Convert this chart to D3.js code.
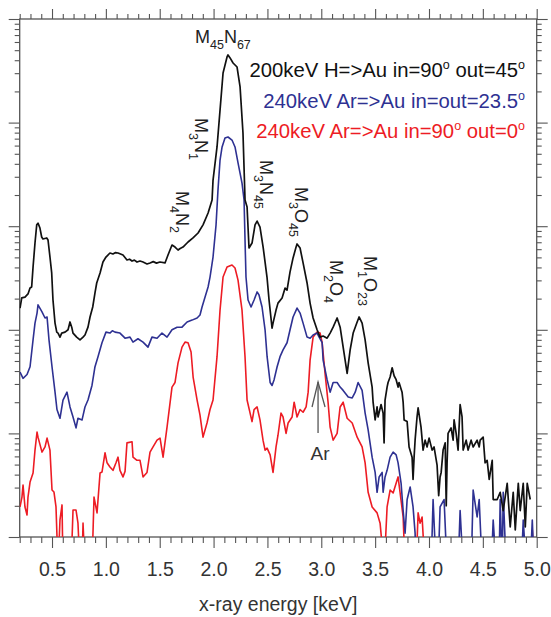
<!DOCTYPE html>
<html>
<head>
<meta charset="utf-8">
<script src="https://cdn.jsdelivr.net/npm/d3@7"></script>
<style>
  body { margin: 0; background: #fff; }
  svg { display: block; }
  text { font-family: "Liberation Sans", Arial, Helvetica, sans-serif; }
</style>
</head>
<body>
<svg id="chart" width="551" height="617"></svg>
<script>
// X-ray emission spectra of gold, counts vs photon energy [keV] (log intensity)
// 200 keV H -> Au, in=90°, out=45°
const spectrumH = [
  [0.203,162],[0.219,203],[0.249,207],[0.277,222],[0.296,253],[0.311,259],[0.324,404],[0.342,688],
  [0.358,1030],[0.370,1070],[0.388,960],[0.404,787],[0.416,753],[0.451,770],[0.463,736],[0.481,504],
  [0.497,354],[0.509,194],[0.528,116],[0.544,95],[0.556,93],[0.574,85],[0.590,93],[0.621,95],
  [0.649,100],[0.667,119],[0.683,106],[0.695,93],[0.729,85],[0.760,80],[0.788,85],[0.806,89],
  [0.834,106],[0.853,133],[0.878,166],[0.899,227],[0.915,283],[0.946,354],[0.973,451],[1.001,504],
  [1.038,551],[1.066,539],[1.090,556],[1.113,551],[1.159,527],[1.196,472],[1.220,480],[1.243,461],
  [1.265,470],[1.289,451],[1.317,461],[1.345,451],[1.382,432],[1.410,442],[1.440,455],[1.470,440],
  [1.502,451],[1.549,442],[1.577,527],[1.614,658],[1.642,629],[1.670,589],[1.690,610],[1.716,629],
  [1.763,704],[1.809,770],[1.856,860],[1.902,1030],[1.949,1340],[1.986,1790],[1.995,2790],[2.032,5820],
  [2.060,13200],[2.088,30100],[2.125,43000],[2.134,45000],[2.153,42100],[2.181,37600],[2.218,34400],[2.246,22100],
  [2.273,7940],[2.292,1790],[2.311,1530],[2.329,616],[2.357,688],[2.385,1030],[2.404,1120],[2.431,980],
  [2.460,629],[2.496,323],[2.515,194],[2.543,104],[2.552,116],[2.580,155],[2.598,181],[2.636,203],
  [2.664,253],[2.682,242],[2.710,362],[2.738,494],[2.766,629],[2.775,674],[2.803,616],[2.831,442],
  [2.868,283],[2.896,181],[2.924,130],[2.961,100],[2.989,85],[3.017,87],[3.054,83],[3.082,93],
  [3.110,106],[3.147,130],[3.175,106],[3.203,68],[3.240,38],[3.268,64],[3.296,93],[3.333,119],
  [3.351,133],[3.379,116],[3.407,80],[3.435,48],[3.472,28],[3.481,20],[3.500,13.5],[3.518,18],
  [3.527,14.4],[3.555,19],[3.574,15.7],[3.583,8.1],[3.592,21],[3.611,28],[3.620,31],[3.639,35],
  [3.658,43],[3.676,36],[3.695,33],[3.713,28],[3.722,31],[3.750,25],[3.760,20],[3.769,13.5],
  [3.797,13],[3.815,7.4],[3.843,5.9],[3.852,3.6],[3.862,6],[3.871,8.6],[3.889,14.4],[3.899,17.6],
  [3.926,11.5],[3.945,6.9],[3.964,8.6],[3.982,7.4],[4.001,9.0],[4.029,6.9],[4.047,7.4],[4.075,4.95],
  [4.090,2.5],[4.103,3.8],[4.113,4.2],[4.131,6.9],[4.150,8.1],[4.160,2.0],[4.168,5.2],[4.177,10],
  [4.205,11.3],[4.224,8.6],[4.233,13.5],[4.252,10],[4.270,6.9],[4.289,19],[4.307,14.4],[4.317,6.9],
  [4.345,8.6],[4.363,6.9],[4.391,8.6],[4.410,7.4],[4.447,8.6],[4.466,7.4],[4.475,8.6],[4.503,9.2],
  [4.521,5.2],[4.540,5.5],[4.559,3.6],[4.587,5.5],[4.596,2.3],[4.633,2.3],
  [4.661,2.7],[4.689,1.8],[4.726,3.3],[4.754,1.25],[4.782,2.7],[4.801,1.17],[4.829,3.3],[4.847,1.8],
  [4.875,3.3],[4.894,1.25],[4.912,3.3],[4.940,2.3]
];

// 240 keV Ar -> Au, in=out=23.5°
const spectrumArGrazing = [
  [0.203,39],[0.231,34],[0.268,37],[0.296,44],[0.324,80],[0.342,116],[0.361,145],[0.370,174],
  [0.407,149],[0.435,130],[0.454,133],[0.472,80],[0.500,44],[0.528,25],[0.546,17],[0.574,14],
  [0.602,21],[0.639,25],[0.667,18],[0.695,14.4],[0.723,11.3],[0.741,14],[0.779,13.5],[0.806,18],
  [0.834,21],[0.871,29],[0.899,44],[0.927,55],[0.964,75],[1.001,95],[1.038,93],[1.060,98],
  [1.085,95],[1.131,93],[1.178,83],[1.224,85],[1.252,76],[1.298,82],[1.345,76],[1.391,68],
  [1.428,85],[1.475,83],[1.521,93],[1.568,85],[1.614,100],[1.661,106],[1.707,106],[1.754,119],
  [1.800,124],[1.847,130],[1.874,139],[1.893,166],[1.921,207],[1.949,259],[1.967,323],[1.995,504],
  [2.023,1030],[2.041,2240],[2.060,4350],[2.079,5820],[2.106,7100],[2.134,7260],[2.171,6790],[2.199,5820],
  [2.227,4080],[2.264,2610],[2.283,1790],[2.292,736],[2.301,323],[2.320,194],[2.348,166],[2.376,194],
  [2.404,232],[2.422,217],[2.450,166],[2.478,100],[2.497,55],[2.525,31],[2.543,29],[2.562,33],
  [2.590,44],[2.617,55],[2.645,64],[2.682,75],[2.710,100],[2.738,133],[2.775,162],[2.803,145],
  [2.831,116],[2.868,85],[2.896,83],[2.924,89],[2.961,93],[2.980,85],[3.008,75],[3.017,51],
  [3.054,33],[3.082,25],[3.110,31],[3.147,31],[3.175,28],[3.203,26],[3.250,22.5],[3.287,22],
  [3.315,25],[3.342,31],[3.379,26],[3.407,15.7],[3.435,10.8],[3.472,5.9],[3.500,4.2],[3.518,2.7],
  [3.537,3.8],[3.565,4.2],[3.574,2.7],[3.592,3.8],[3.611,4.4],[3.639,5.9],[3.667,6.6],[3.695,6.2],
  [3.713,5.2],[3.741,3.3],[3.760,1.8],[3.778,1.09],[3.797,2.3],[3.825,3.04],[3.852,1.95],[3.871,1.09],
  [3.880,0.5],[4.020,0.5],[4.038,2.3],[4.066,0.5],[4.085,0.5],[4.103,1.95],[4.140,2.3],[4.168,0.5],
  [4.270,0.5],[4.289,1.8],[4.317,0.5],[4.392,0.5],[4.410,2.84],[4.447,1.56],[4.466,2.3],[4.494,0.5],
  [4.578,0.5],[4.596,1.46],[4.624,0.5],[4.650,0.5],[4.661,2.3],[4.680,0.5],[4.689,2.7],[4.717,0.5],
  [4.857,0.5],[4.875,1.46],[4.903,0.5],[4.940,0.5],[4.959,1.46],[4.977,0.5]
];

// 240 keV Ar -> Au, in=90°, out=0°
const spectrumArNormal = [
  [0.203,1.95],[0.221,2.43],[0.231,3.18],[0.249,1.95],[0.268,1.63],[0.277,2.43],[0.296,3.39],[0.324,4.15],
  [0.342,6.9],[0.361,10.3],[0.370,9.2],[0.407,6.6],[0.435,7.4],[0.454,9.0],[0.481,6.9],[0.500,2.84],
  [0.518,2.72],[0.537,1.95],[0.556,0.5],[0.574,1.46],[0.593,2.04],[0.602,0.5],[0.677,0.5],[0.695,1.82],
  [0.723,1.82],[0.741,1.36],[0.760,0.5],[0.778,0.5],[0.788,1.36],[0.806,0.5],[0.871,0.5],[0.890,2.43],
  [0.918,1.71],[0.946,4.15],[0.964,4.24],[0.992,6.5],[1.011,5.2],[1.038,4.74],[1.066,4.4],[1.094,5.2],
  [1.113,5.9],[1.131,4.4],[1.159,3.8],[1.178,4.3],[1.196,8.1],[1.243,8.3],[1.252,5.9],[1.289,5.5],
  [1.317,5.5],[1.345,3.8],[1.382,4.2],[1.410,6.6],[1.438,7.4],[1.475,8.6],[1.503,9.0],[1.531,5.9],
  [1.568,11.5],[1.614,28],[1.642,31],[1.670,48],[1.707,68],[1.735,76],[1.763,75],[1.791,61],
  [1.810,35],[1.847,21],[1.874,15],[1.902,9.2],[1.939,12.6],[1.967,17],[1.995,21],[2.032,55],
  [2.060,155],[2.088,323],[2.125,404],[2.171,422],[2.199,395],[2.227,302],[2.264,155],[2.292,55],
  [2.311,21],[2.339,15.7],[2.357,13],[2.376,17],[2.404,18],[2.431,13.5],[2.459,8.6],[2.478,6.9],
  [2.497,7.2],[2.525,6.2],[2.552,4.2],[2.580,7.4],[2.598,9.6],[2.626,15.7],[2.645,14.4],[2.673,10],
  [2.692,12.6],[2.729,14.4],[2.748,20],[2.775,14.4],[2.803,17],[2.831,16],[2.859,18],[2.878,25],
  [2.896,51],[2.924,85],[2.961,95],[2.989,93],[3.008,75],[3.035,38],[3.063,20],[3.082,11.5],
  [3.110,8.6],[3.147,10],[3.175,18],[3.203,20],[3.240,14],[3.287,12.6],[3.333,9.2],[3.379,7.4],
  [3.407,5.2],[3.435,2.7],[3.472,1.95],[3.518,1.71],[3.546,1.36],[3.584,0.5],[3.611,1.95],[3.639,2.84],
  [3.667,2.66],[3.704,3.55],[3.713,3.8],[3.732,2.66],[3.760,1.56],[3.778,0.5],[3.880,0.5],[3.899,1.71],
  [3.917,1.36],[3.936,1.56],[3.963,0.5],[4.940,0.5],[4.959,1.17],[4.977,0.5]
];

const seriesColors = ["#111111", "#2e3192", "#ed1c24"];
const legendLabels = [
  ["200keV H=>Au in=90", "o", " out=45", "o"],
  ["240keV Ar=>Au in=out=23.5", "o"],
  ["240keV Ar=>Au in=90", "o", " out=0", "o"]
];
const xTickValues = [0.5, 1.0, 1.5, 2.0, 2.5, 3.0, 3.5, 4.0, 4.5, 5.0];
const xTitle = "x-ray energy [keV]";

// Transition labels (main letters alternate with subscripts), placed at an energy
const lineLabels = [
  { parts: ["M", "4", "N", "2"], e: 1.65, y: 191 },
  { parts: ["M", "3", "N", "1"], e: 1.83, y: 118 },
  { parts: ["M", "3", "N", "45"], e: 2.43, y: 160 },
  { parts: ["M", "3", "O", "45"], e: 2.755, y: 187 },
  { parts: ["M", "2", "O", "4"], e: 3.08, y: 260 },
  { parts: ["M", "1", "O", "23"], e: 3.40, y: 256 }
];

const svg = d3.select("#chart");
const plot = { left: 19.7, right: 536.7, top: 19, bottom: 537 };

const x = d3.scaleLinear().domain([0.2, 5.0]).range([plot.left, plot.right]);
const y = d3.scaleLog().domain([1, 1e5]).range([plot.bottom, plot.top]);

const axisColor = "#555";

svg.append("clipPath").attr("id", "plotClip")
  .append("rect")
  .attr("x", plot.left).attr("y", plot.top)
  .attr("width", plot.right - plot.left).attr("height", plot.bottom - plot.top);

// Tick values
const xMinor = d3.range(2, 51).map(d => d / 10).filter(d => !xTickValues.some(t => Math.abs(t - d) < 1e-6));
const yMajor = [1, 10, 100, 1000, 10000, 100000];
const yMinor = [];
for (let k = 0; k < 5; k++) for (let m = 2; m <= 9; m++) yMinor.push(m * Math.pow(10, k));

function styleAxis(g) {
  g.select(".domain").remove();
  g.selectAll(".tick line").attr("stroke", axisColor).attr("stroke-width", 1.1);
}

// bottom
svg.append("g").attr("transform", `translate(0,${plot.bottom})`)
  .call(d3.axisBottom(x).tickValues(xMinor).tickSize(6).tickFormat(""))
  .call(styleAxis);
svg.append("g").attr("transform", `translate(0,${plot.bottom})`)
  .call(d3.axisBottom(x).tickValues(xTickValues).tickSize(11).tickPadding(14).tickFormat(d3.format(".1f")))
  .call(styleAxis)
  .call(g => g.selectAll("text").attr("font-size", 19.5).attr("fill", "#333")
    .attr("font-family", "'Liberation Sans', Arial, sans-serif"));
// top
svg.append("g").attr("transform", `translate(0,${plot.top})`)
  .call(d3.axisTop(x).tickValues(xMinor).tickSize(5).tickFormat(""))
  .call(styleAxis);
svg.append("g").attr("transform", `translate(0,${plot.top})`)
  .call(d3.axisTop(x).tickValues(xTickValues).tickSize(10).tickFormat(""))
  .call(styleAxis);
// left
svg.append("g").attr("transform", `translate(${plot.left},0)`)
  .call(d3.axisLeft(y).tickValues(yMinor).tickSize(5).tickFormat(""))
  .call(styleAxis);
svg.append("g").attr("transform", `translate(${plot.left},0)`)
  .call(d3.axisLeft(y).tickValues(yMajor).tickSize(11).tickFormat(""))
  .call(styleAxis);
// right
svg.append("g").attr("transform", `translate(${plot.right},0)`)
  .call(d3.axisRight(y).tickValues(yMinor).tickSize(5).tickFormat(""))
  .call(styleAxis);
svg.append("g").attr("transform", `translate(${plot.right},0)`)
  .call(d3.axisRight(y).tickValues(yMajor).tickSize(11).tickFormat(""))
  .call(styleAxis);

// frame
svg.append("rect")
  .attr("x", plot.left).attr("y", plot.top)
  .attr("width", plot.right - plot.left).attr("height", plot.bottom - plot.top)
  .attr("fill", "none").attr("stroke", axisColor).attr("stroke-width", 1.3);

// axis title
svg.append("text")
  .attr("x", (plot.left + plot.right) / 2).attr("y", 611)
  .attr("text-anchor", "middle").attr("font-size", 19.5).attr("fill", "#333")
  .text(xTitle);

// spectra
const line = d3.line().x(d => x(d[0])).y(d => y(d[1]));
const curves = svg.append("g").attr("clip-path", "url(#plotClip)");
[spectrumArNormal, spectrumArGrazing, spectrumH].forEach((s, i) => {
  const color = seriesColors[2 - i];
  curves.append("path")
    .datum(s)
    .attr("d", line)
    .attr("fill", "none")
    .attr("stroke", color)
    .attr("stroke-width", i === 2 ? 1.7 : 1.6)
    .attr("stroke-linejoin", "round");
});

// legend (right aligned, superscript degree marks)
const legend = svg.append("g");
legendLabels.forEach((parts, i) => {
  const t = legend.append("text")
    .attr("x", 525).attr("y", 77 + i * 30.5)
    .attr("text-anchor", "end")
    .attr("font-size", 20.3)
    .attr("fill", seriesColors[i]);
  parts.forEach((p, j) => {
    const isSup = (p === "o");
    const ts = t.append("tspan").text(p);
    if (isSup) ts.attr("font-size", 12.5).attr("dy", -8);
    else if (j > 0) ts.attr("dy", 8);
  });
});

// subscripted label helper
function subLabel(sel, parts, big, small, shift) {
  parts.forEach((p, j) => {
    const ts = sel.append("tspan").text(p);
    if (j % 2 === 1) ts.attr("font-size", small).attr("dy", shift);
    else if (j > 0) ts.attr("font-size", big).attr("dy", -shift);
  });
}

// main peak label
const peakLabel = svg.append("text")
  .attr("x", 195).attr("y", 43)
  .attr("font-size", 18).attr("fill", "#222");
subLabel(peakLabel, ["M", "45", "N", "67"], 18, 12.5, 6);

// rotated transition labels
lineLabels.forEach(l => {
  const t = svg.append("text")
    .attr("transform", `translate(${x(l.e)},${l.y}) rotate(90)`)
    .attr("font-size", 18).attr("fill", "#222");
  subLabel(t, l.parts, 18, 12.5, 6);
});

// Ar marker arrow
const arE = 2.97;
const arrow = svg.append("g").attr("stroke", "#555").attr("stroke-width", 1.3).attr("fill", "none");
arrow.append("line").attr("x1", x(arE)).attr("x2", x(arE)).attr("y1", 382).attr("y2", 433);
arrow.append("polyline")
  .attr("points", `${x(arE) - 6},407 ${x(arE)},382 ${x(arE) + 7},407`);
svg.append("text")
  .attr("x", x(arE) + 2).attr("y", 460)
  .attr("text-anchor", "middle").attr("font-size", 19).attr("fill", "#333")
  .text("Ar");
</script>
</body>
</html>
